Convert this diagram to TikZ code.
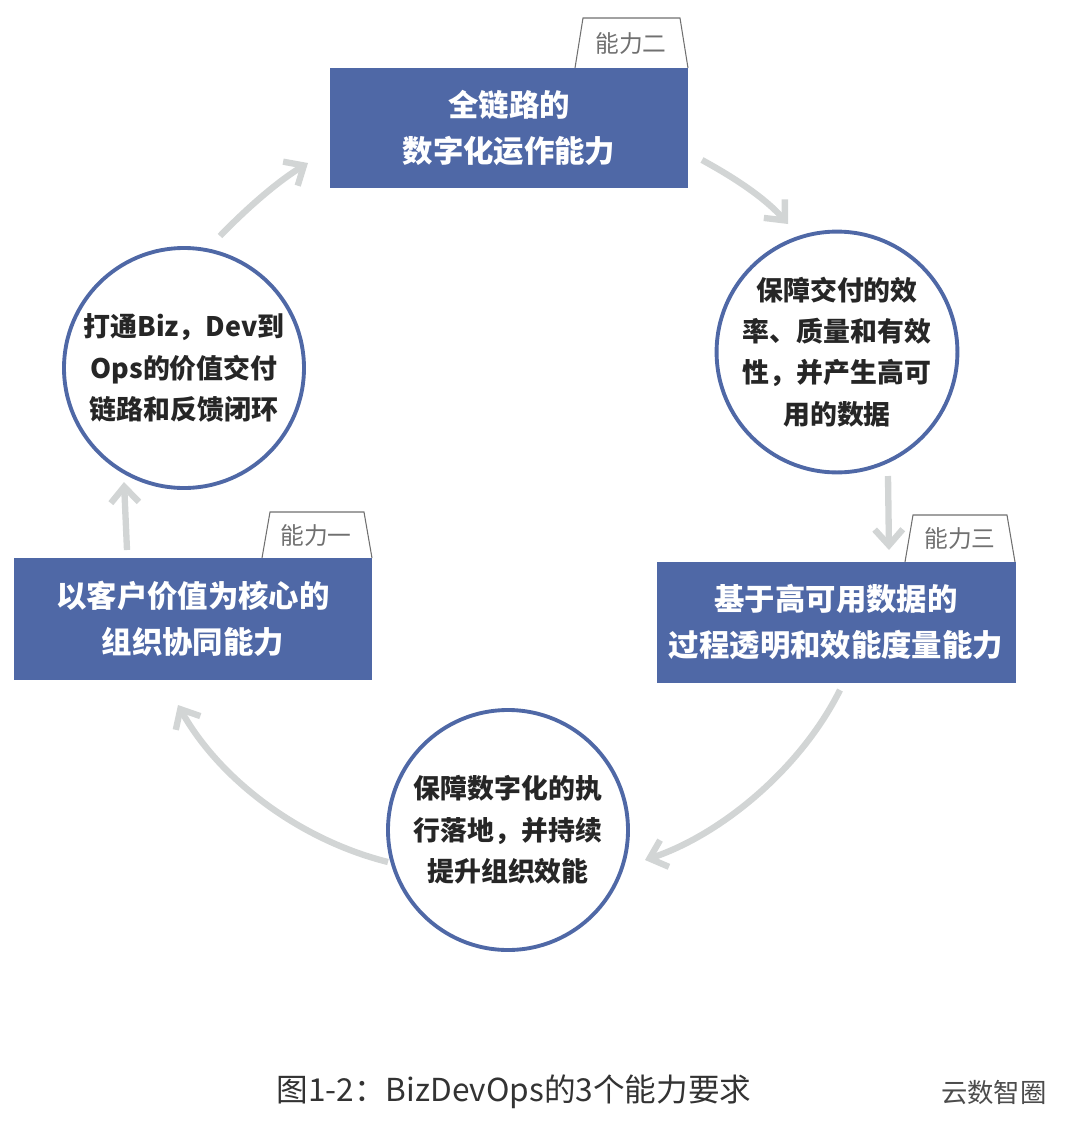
\documentclass[tikz,border=0pt]{standalone}
\usepackage{fontspec}
\setmainfont{Noto Sans CJK SC}
\usetikzlibrary{arrows.meta}
\definecolor{boxblue}{HTML}{4F68A6}
\definecolor{arrgray}{HTML}{D2D5D5}
\definecolor{tabgray}{HTML}{707070}
\begin{document}
\begin{tikzpicture}[x=0.02cm,y=-0.02cm,
  bbox/.style={fill=boxblue,draw=none,text=white,font=\bfseries\fontsize{17.3}{26}\selectfont,align=center,inner sep=0pt},
  circ/.style={circle,draw=boxblue,line width=2.2pt,fill=white,minimum size=240*0.02cm,align=center,font=\bfseries\fontsize{15.3}{23.5}\selectfont,text=black!85,inner sep=0pt},
  tabtxt/.style={text=tabgray,font=\fontsize{13.5}{14}\selectfont},
  tabline/.style={draw=tabgray,line width=0.6pt,fill=white},
  arr/.style={draw=arrgray,line width=3.6pt,-{Straight Barb[length=9pt,width=16pt,line width=3.6pt]}}]
\useasboundingbox (0,0) rectangle (1080,1140);
% tabs
\draw[tabline] (575,68) -- (583,18) -- (680,18) -- (688,68);
\node[tabtxt] (t2) at (631,44) {能力二};
\draw[tabline] (905,562) -- (913,515) -- (1007,515) -- (1015,562);
\node[tabtxt] (t3) at (960,539) {能力三};
\draw[tabline] (262,558) -- (270,512) -- (364,512) -- (372,558);
\node[tabtxt] (t1) at (316,536) {能力一};
% boxes
\fill[boxblue] (330,68) rectangle (688,188);
\node[bbox] (b2) at (509,128) {全链路的\\数字化运作能力};
\fill[boxblue] (657,562) rectangle (1016,683);
\node[bbox] (b3) at (836,622) {基于高可用数据的\\过程透明和效能度量能力};
\fill[boxblue] (14,558) rectangle (372,680);
\node[bbox] (b1) at (193,619) {以客户价值为核心的\\组织协同能力};
% circles
\node[circ] (c2) at (837,352) {保障交付的效\\率、质量和有效\\性，并产生高可\\用的数据};
\node[circ] (c3) at (508,830) {保障数字化的执\\行落地，并持续\\提升组织效能};
\node[circ] (c1) at (184,368) {打通Biz，Dev到\\Ops的价值交付\\链路和反馈闭环};
% arrows
\coordinate (a1s) at (220,236); \coordinate (a1e) at (308,163);
\draw[arr] (a1s) .. controls (250,205) and (280,180) .. (a1e);
\coordinate (a2s) at (702,160); \coordinate (a2e) at (788,224);
\draw[arr] (a2s) .. controls (735,178) and (765,198) .. (a2e);
\coordinate (a3s) at (888,476); \coordinate (a3e) at (889,550);
\draw[arr] (a3s) -- (a3e);
\coordinate (a4s) at (840,690); \coordinate (a4e) at (645,860);
\draw[arr] (a4s) .. controls (800,770) and (720,835) .. (a4e);
\coordinate (a5s) at (388,862); \coordinate (a5e) at (178,705);
\draw[arr] (a5s) .. controls (300,840) and (220,780) .. (a5e);
\coordinate (a6s) at (127,550); \coordinate (a6e) at (124,482);
\draw[arr] (a6s) -- (a6e);
% caption
\node[text=black!80,font=\fontsize{18}{20}\selectfont] (cap) at (514,1092) {图1-2：BizDevOps的3个能力要求};
\node[text=black!70,font=\fontsize{15}{16}\selectfont,anchor=west] (wm) at (935,1092) {云数智圈};
\end{tikzpicture}
\end{document}
